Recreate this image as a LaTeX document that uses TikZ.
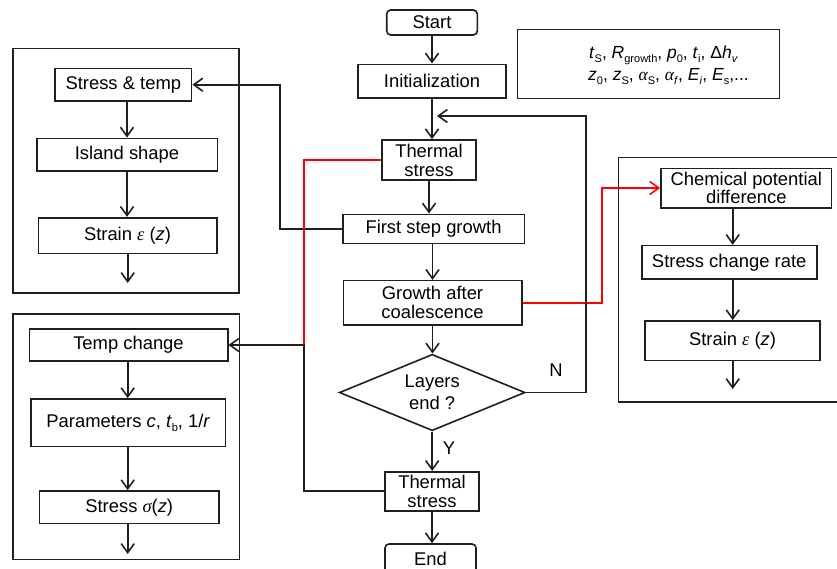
\documentclass[tikz,border=0pt]{standalone}
\usepackage{fontspec}
\setmainfont{Liberation Sans}
\newfontfamily\serifface{Liberation Serif}
\usetikzlibrary{arrows.meta,shapes.geometric}
\newcommand\fs{\fontsize{18.4}{19}\selectfont}
\newcommand\gk[1]{{\serifface\itshape #1}}
\newcommand\sbs[1]{\raisebox{-0.25em}{\fontsize{11}{11}\selectfont #1}}
\tikzset{
  ln/.style={draw=black!88, line width=1.6pt},
  box/.style={ln, fill=white, inner sep=0pt, align=center, font=\fs},
  obox/.style={ln, inner sep=0pt},
  rbox/.style={box, rounded corners=4pt},
  dia/.style={box, diamond, shape aspect=2.4},
  arr/.style={ln, -{Straight Barb[length=9pt,width=13pt]}},
  rarr/.style={draw=red, line width=1.6pt, -{Straight Barb[length=9pt,width=13pt]}},
  rln/.style={draw=red, line width=1.6pt},
  lbl/.style={font=\fs, inner sep=0pt},
  plbl/.style={font=\fontsize{17.5}{19}\selectfont, inner sep=0pt},
}
\begin{document}
\begin{tikzpicture}[x=1pt,y=-1pt]
\useasboundingbox (0,0) rectangle (837,568);
\clip (0,0) rectangle (837,568);

% outer frames
\node[obox, minimum width=226, minimum height=244.4] (o1) at (126,170.5) {};
\node[obox, minimum width=226.3, minimum height=245.3] (o2) at (126.2,436.7) {};
\node[obox, minimum width=227, minimum height=244.4] (o3) at (731.8,279.5) {};
\node[obox, minimum width=262, minimum height=69] (pbox) at (648.3,63.8) {};
\node[plbl, anchor=base west] (p1) at (589,58) {\textit{t}\sbs{S}, \textit{R}\sbs{growth}, \textit{p}\sbs{0}, \textit{t}\sbs{i}, Δ\textit{h}\sbs{\textit{v}}};
\node[plbl, anchor=base west] (p2) at (588,80) {\textit{z}\sbs{0}, \textit{z}\sbs{S}, \gk{α}\sbs{S}, \gk{α}\sbs{\textit{f}}, \textit{E}\sbs{\textit{i}}, \textit{E}\sbs{s},...};

% main column
\node[rbox, minimum width=90.6, minimum height=25] (start) at (432,22.5) {Start};
\node[box, minimum width=148, minimum height=33.4] (init) at (432,81) {Initialization};
\node[box, minimum width=94, minimum height=40] (ts1) at (429,160) {Thermal\\stress};
\node[box, minimum width=181.6, minimum height=29] (fsg) at (433.5,228.8) {First step growth};
\node[box, minimum width=178.4, minimum height=44.3] (gac) at (432.5,302.8) {Growth after\\coalescence};
\node[dia, minimum width=185.7, minimum height=76.4, font=\fontsize{18.4}{21.5}\selectfont] (layers) at (432.2,392.5) {Layers\\end ?};
\node[box, minimum width=94, minimum height=39] (ts2) at (432,491.2) {Thermal\\stress};
\node[rbox, minimum width=91, minimum height=30] (end) at (430.5,559) {End};

% left column 1
\node[box, minimum width=136.7, minimum height=32.7] (st) at (123.3,84.7) {Stress \& temp};
\node[box, minimum width=180.6, minimum height=32.7] (isl) at (127,154.7) {Island shape};
\node[box, minimum width=178.4, minimum height=35.6] (str1) at (127.5,235.5) {Strain \gk{ε} (\textit{z})};
\coordinate (e1) at (127.7,283);

% left column 2
\node[box, minimum width=198.4, minimum height=32] (tc) at (128.5,345) {Temp change};
\node[box, minimum width=194.7, minimum height=47.7] (par) at (128.3,422.8) {Parameters \textit{c}, \textit{t}\sbs{b}, 1/\textit{r}};
\node[box, minimum width=179.7, minimum height=32.7] (sig) at (129.2,507.3) {Stress \gk{σ}(\textit{z})};
\coordinate (e2) at (127.7,554);

% right column
\node[box, minimum width=170.7, minimum height=39.4, font=\fontsize{18.4}{17.5}\selectfont] (cpd) at (746.3,188) {Chemical potential\\difference};
\node[box, minimum width=175, minimum height=33.3] (scr) at (729.2,262.3) {Stress change rate};
\node[box, minimum width=175, minimum height=39.7] (str3) at (732.5,340.8) {Strain \gk{ε} (\textit{z})};
\coordinate (e3) at (732.7,389);

% main arrows
\draw[arr] (start.south) -- (start.south |- init.north);
\draw[arr] (init.south) -- (init.south |- ts1.north);
\draw[arr] (ts1.south) -- (ts1.south |- fsg.north);
\draw[arr] (fsg.south -| gac) -- (gac.north);
\draw[arr] (gac.south) -- (gac.south |- layers.north);
\draw[arr] (layers.south) -- (layers.south |- ts2.north);
\draw[arr] (ts2.south) -- (ts2.south |- end.north);

% left column arrows
\draw[arr] (st.south -| isl) -- (isl.north);
\draw[arr] (isl.south) -- (isl.south |- str1.north);
\draw[arr] (str1.south -| e1) -- (e1);
\draw[arr] (tc.south -| e2) -- (e2 |- par.north);
\draw[arr] (par.south -| e2) -- (e2 |- sig.north);
\draw[arr] (sig.south -| e2) -- (e2);

% right column arrows
\draw[arr] (cpd.south -| e3) -- (e3 |- scr.north);
\draw[arr] (scr.south -| e3) -- (e3 |- str3.north);
\draw[arr] (str3.south -| e3) -- (e3);

% connectors
\coordinate (k1) at (280,0);
\draw[arr] (fsg.west) -| (k1 |- st.east) -- (st.east);
\coordinate (jr) at (304,345);
\draw[rln] (ts1.west) -| (jr);
\draw[arr] (ts2.west) -| (jr) -- (tc.east);
\coordinate (k3) at (602,0);
\draw[rarr] (gac.east) -| (k3 |- cpd.west) -- (cpd.west);
\coordinate (k4) at (586,116);
\coordinate (fb) at (437,116);
\draw[arr] (layers.east) -| (k4) -- (fb);

\node[lbl] (nlab) at (556,370) {N};
\node[lbl] (ylab) at (449,448) {Y};
\end{tikzpicture}
\end{document}
